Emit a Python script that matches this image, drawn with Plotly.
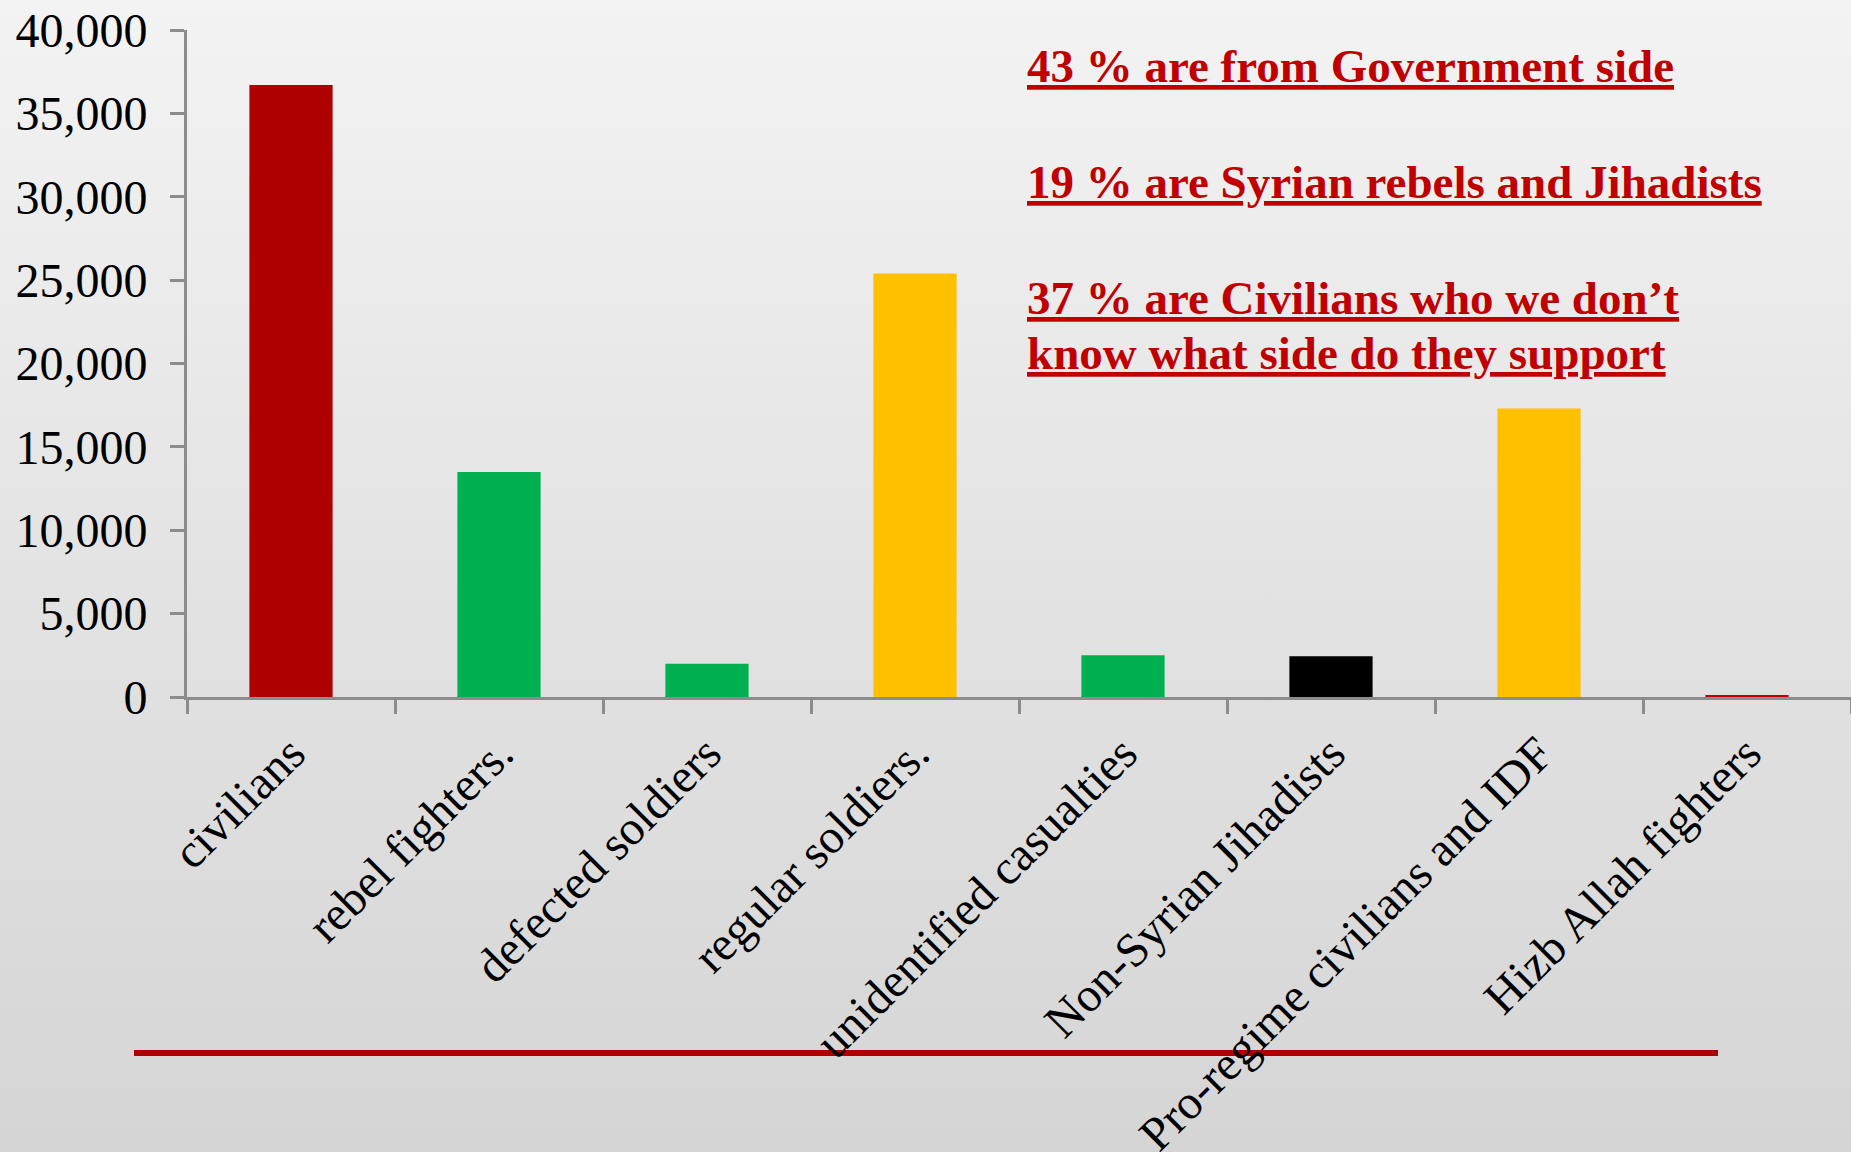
import plotly.graph_objects as go
import urllib.parse

categories = ["civilians", "rebel fighters.", "defected soldiers", "regular soldiers.",
              "unidentified casualties", "Non-Syrian Jihadists",
              "Pro-regime civilians and IDF", "Hizb Allah fighters"]
values = [36700, 13500, 2000, 25400, 2500, 2450, 17300, 120]
colors = ["#AE0000", "#00B050", "#00B050", "#FFC000", "#00B050", "#000000", "#FFC000", "#C00000"]
y_ticks = [0, 5000, 10000, 15000, 20000, 25000, 30000, 35000, 40000]
notes = ["43 % are from Government side",
         "19 % are Syrian rebels and Jihadists",
         "37 % are Civilians who we don\u2019t",
         "know what side do they support"]

W, H = 1851, 1152
ML, MR, MT, MB = 187, 0, 30, 455
pw, ph = W - ML - MR, H - MT - MB

svg = ('<svg xmlns="http://www.w3.org/2000/svg" width="100" height="100" preserveAspectRatio="none">'
       '<defs><linearGradient id="g" x1="0" y1="0" x2="0" y2="1">'
       '<stop offset="0" stop-color="#F3F3F3"/><stop offset="0.5" stop-color="#E3E3E3"/>'
       '<stop offset="1" stop-color="#D5D5D5"/></linearGradient></defs>'
       '<rect width="100" height="100" fill="url(#g)"/></svg>')
bg_src = "data:image/svg+xml;charset=utf-8," + urllib.parse.quote(svg)

fig = go.Figure(go.Bar(x=categories, y=values, marker=dict(color=colors, line=dict(width=0))))

font_family = "Liberation Serif, Times New Roman, serif"

fig.update_layout(
    template="none",
    width=W, height=H,
    margin=dict(l=ML, r=MR, t=MT, b=MB, pad=0, autoexpand=False),
    paper_bgcolor="#E3E3E3", plot_bgcolor="rgba(0,0,0,0)",
    bargap=0.6, showlegend=False,
    font=dict(family=font_family, color="#000000", size=48),
    images=[dict(source=bg_src, xref="paper", yref="paper",
                 x=-ML / pw, y=1 + MT / ph, sizex=W / pw, sizey=H / ph,
                 sizing="stretch", xanchor="left", yanchor="top", layer="below")],
    xaxis=dict(automargin=False, showgrid=False, showline=True, linecolor="#8C8C8C", linewidth=3,
               ticks="outside", tickson="boundaries", ticklen=14, tickwidth=3, tickcolor="#8C8C8C",
               tickangle=-45, tickfont=dict(size=48, family=font_family), ticklabelstandoff=6),
    yaxis=dict(automargin=False, range=[0, 40000], tickvals=y_ticks, tickformat=",",
               showgrid=False, zeroline=False,
               showline=True, linecolor="#8C8C8C", linewidth=3,
               ticks="outside", ticklen=14, tickwidth=3, tickcolor="#8C8C8C",
               tickfont=dict(size=48, family=font_family), ticklabelstandoff=13),
)

note_font = dict(family=font_family, size=47, color="#C00000", weight="bold", lineposition="under")
note_y = [84, 200, 316, 371]  # baselines in pixels from top
for txt, yb in zip(notes, note_y):
    fig.add_annotation(text=txt, xref="paper", yref="paper",
                       x=(1025 - ML) / pw, y=1 - (yb + 10 - MT) / ph,
                       xanchor="left", yanchor="bottom", showarrow=False,
                       font=note_font, align="left")

fig.add_shape(type="line", xref="paper", yref="paper",
              x0=(134 - ML) / pw, x1=(1718 - ML) / pw,
              y0=1 - (1053 - MT) / ph, y1=1 - (1053 - MT) / ph,
              line=dict(color="#AE0000", width=6), layer="below")

fig.write_html("out.html", config={"displayModeBar": False},
               post_script="document.body.style.margin='0';document.body.style.padding='0';"
                           "document.body.style.background='#D5D5D5';")
